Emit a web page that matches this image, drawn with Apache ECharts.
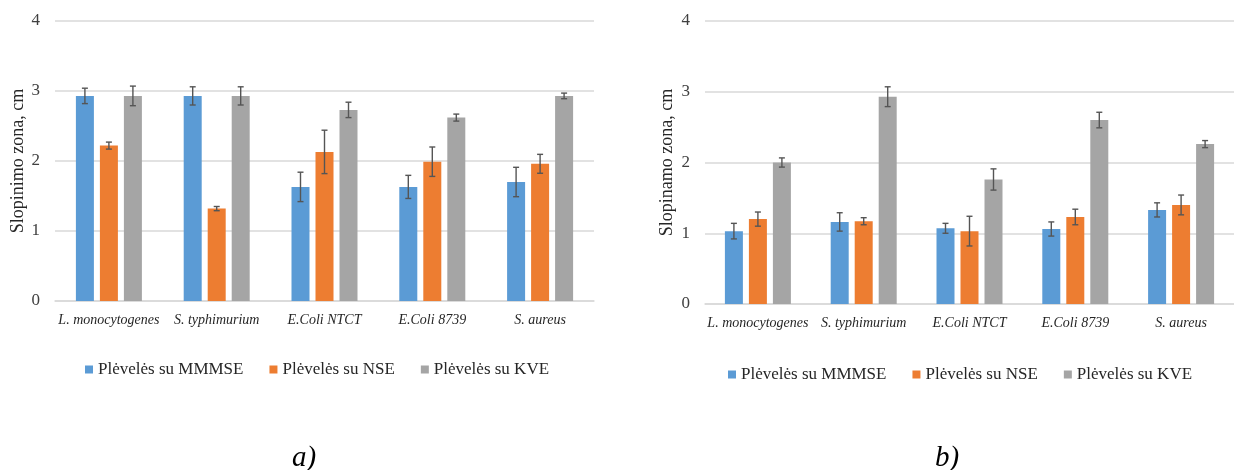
<!DOCTYPE html>
<html>
<head>
<meta charset="utf-8">
<script src="https://cdn.jsdelivr.net/npm/echarts@6/dist/echarts.min.js"></script>
<style>
html,body{margin:0;padding:0;background:#fff;}
#chart{width:1234px;height:470px;}
</style>
</head>
<body>
<div id="chart"></div>
<script>
// ---- data ----
const categories = ['L. monocytogenes', 'S. typhimurium', 'E.Coli NTCT', 'E.Coli 8739', 'S. aureus'];
const seriesNames = ['Plėvelės su MMMSE', 'Plėvelės su NSE', 'Plėvelės su KVE'];
const yTicks = [0, 1, 2, 3, 4];

// chart a)
const mmmseA = [2.93, 2.93, 1.63, 1.63, 1.70];
const nseA   = [2.22, 1.32, 2.13, 1.99, 1.96];
const kveA   = [2.93, 2.93, 2.73, 2.62, 2.93];
const mmmseAErr = [0.11, 0.13, 0.21, 0.165, 0.21];
const nseAErr   = [0.05, 0.03, 0.31, 0.21, 0.135];
const kveAErr   = [0.14, 0.13, 0.11, 0.05, 0.04];

// chart b)
const mmmseB = [1.03, 1.16, 1.07, 1.06, 1.33];
const nseB   = [1.20, 1.17, 1.03, 1.23, 1.40];
const kveB   = [2.00, 2.93, 1.76, 2.60, 2.26];
const mmmseBErr = [0.11, 0.13, 0.07, 0.10, 0.10];
const nseBErr   = [0.10, 0.05, 0.21, 0.11, 0.14];
const kveBErr   = [0.065, 0.14, 0.15, 0.11, 0.05];

const yTitleA = 'Slopinimo zona, cm';
const yTitleB = 'Slopinamo zona, cm';
const captions = ['a)', 'b)'];

// ---- style ----
const colors = ['#5B9BD5', '#ED7D31', '#A5A5A5'];
const FONT = '"Liberation Serif", "Times New Roman", serif';
const BAR_W = 18, BAR_GAP = 6;

const chart = echarts.init(document.getElementById('chart'), null, {renderer: 'canvas'});

function errRender(k) {
  const off = (k - 1) * (BAR_W + BAR_GAP);
  return function (params, api) {
    const i = api.value(0), v = api.value(1), e = api.value(2);
    const hi = api.coord([i, v + e]);
    const lo = api.coord([i, v - e]);
    const x = hi[0] + off;
    const cap = 3;
    const st = {stroke: '#555555', lineWidth: 1.4};
    return {
      type: 'group',
      children: [
        {type: 'line', shape: {x1: x, y1: hi[1], x2: x, y2: lo[1]}, style: st},
        {type: 'line', shape: {x1: x - cap, y1: hi[1], x2: x + cap, y2: hi[1]}, style: st},
        {type: 'line', shape: {x1: x - cap, y1: lo[1], x2: x + cap, y2: lo[1]}, style: st}
      ]
    };
  };
}

function makeSeries(gi, vals, errs) {
  const out = [];
  vals.forEach((arr, k) => {
    out.push({
      type: 'bar', name: seriesNames[k], xAxisIndex: gi, yAxisIndex: gi,
      data: arr, barWidth: BAR_W, barGap: (BAR_GAP / BAR_W * 100) + '%',
      itemStyle: {color: colors[k]}, z: 2
    });
  });
  errs.forEach((arr, k) => {
    out.push({
      type: 'custom', xAxisIndex: gi, yAxisIndex: gi, z: 5,
      renderItem: errRender(k),
      encode: {x: 0, y: 1},
      data: arr.map((e, i) => [i, vals[k][i], e]),
      silent: true
    });
  });
  return out;
}

function xAxis(gi) {
  return {
    type: 'category', gridIndex: gi, data: categories,
    axisLine: {lineStyle: {color: '#D9D9D9', width: 1.5}},
    axisTick: {show: false},
    axisLabel: {fontFamily: FONT, fontStyle: 'italic', fontSize: 14, color: '#262626', margin: 12, interval: 0}
  };
}
function yAxis(gi, name, gap) {
  return {
    type: 'value', gridIndex: gi, min: yTicks[0], max: yTicks[yTicks.length - 1], interval: 1,
    name: name, nameLocation: 'middle', nameGap: gap,
    nameTextStyle: {fontFamily: FONT, fontSize: 18, color: '#262626'},
    axisLine: {show: false}, axisTick: {show: false},
    axisLabel: {fontFamily: FONT, fontSize: 17, color: '#404040', margin: 15},
    splitLine: {lineStyle: {color: '#D9D9D9', width: 1.5}}
  };
}

const legendBase = {
  itemWidth: 8, itemHeight: 8, itemGap: 26, icon: 'rect',
  textStyle: {fontFamily: FONT, fontSize: 17, color: '#262626'},
  data: seriesNames, selectedMode: false
};

const option = {
  backgroundColor: '#ffffff',
  animation: false,
  grid: [
    {left: 55, top: 21, width: 539, height: 280},
    {left: 705, top: 21, width: 537, height: 283}
  ],
  xAxis: [xAxis(0), xAxis(1)],
  yAxis: [yAxis(0, yTitleA, 28), yAxis(1, yTitleB, 29)],
  legend: [
    Object.assign({left: 80, top: 356}, legendBase),
    Object.assign({left: 723, top: 361}, legendBase)
  ],
  title: [
    {text: captions[0], left: 287, top: 439, textStyle: {fontFamily: FONT, fontStyle: 'italic', fontWeight: 'normal', fontSize: 29, color: '#000'}},
    {text: captions[1], left: 930, top: 439, textStyle: {fontFamily: FONT, fontStyle: 'italic', fontWeight: 'normal', fontSize: 29, color: '#000'}}
  ],
  series: [].concat(
    makeSeries(0, [mmmseA, nseA, kveA], [mmmseAErr, nseAErr, kveAErr]),
    makeSeries(1, [mmmseB, nseB, kveB], [mmmseBErr, nseBErr, kveBErr])
  )
};
chart.setOption(option);
</script>
</body>
</html>
